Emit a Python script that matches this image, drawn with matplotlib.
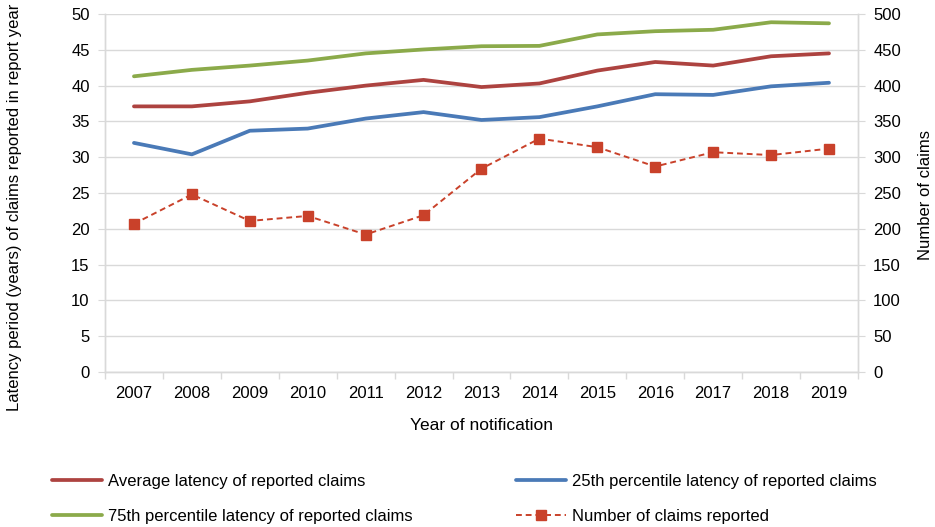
import matplotlib
matplotlib.use("Agg")
import matplotlib.pyplot as plt
from matplotlib.ticker import MultipleLocator

plt.rcParams['font.family'] = ['Liberation Sans', 'DejaVu Sans']

years = [2007, 2008, 2009, 2010, 2011, 2012, 2013, 2014, 2015, 2016, 2017, 2018, 2019]
avg_latency = [37.1, 37.1, 37.8, 39.0, 40.0, 40.8, 39.8, 40.3, 42.1, 43.3, 42.8, 44.1, 44.5]
p25_latency = [32.0, 30.4, 33.7, 34.0, 35.4, 36.3, 35.2, 35.6, 37.1, 38.8, 38.7, 39.9, 40.4]
p75_latency = [41.3, 42.2, 42.8, 43.5, 44.5, 45.05, 45.5, 45.55, 47.15, 47.6, 47.8, 48.85, 48.7]
claims = [207, 248, 211, 218, 192, 219, 284, 326, 314, 287, 307, 303, 312]

labels = ["Average latency of reported claims",
          "25th percentile latency of reported claims",
          "75th percentile latency of reported claims",
          "Number of claims reported"]

c_avg = "#AD4340"
c_p25 = "#4A7AB7"
c_p75 = "#8BAA4A"
c_cl = "#C9412A"
grid_c = "#D9D9D9"
fs = 12

fig = plt.figure(figsize=(9.35, 5.27), dpi=100)
ax = fig.add_axes([0.1123, 0.2941, 0.8053, 0.6793])
ax2 = ax.twinx()

l1, = ax.plot(years, avg_latency, color=c_avg, lw=2.7, solid_capstyle='round')
l2, = ax.plot(years, p25_latency, color=c_p25, lw=2.7, solid_capstyle='round')
l3, = ax.plot(years, p75_latency, color=c_p75, lw=2.7, solid_capstyle='round')
l4, = ax2.plot(years, claims, color=c_cl, lw=1.4, ls=(0, (3, 2)), marker='s',
               markersize=7.5, markerfacecolor=c_cl, markeredgecolor=c_cl)

ax.set_ylim(0, 50)
ax2.set_ylim(0, 500)
ax.set_xlim(2006.5, 2019.5)
ax.yaxis.set_major_locator(MultipleLocator(5))
ax2.yaxis.set_major_locator(MultipleLocator(50))
ax.set_xticks(years)
ax.set_xticks([y + 0.5 for y in [2006] + years], minor=True)
ax.tick_params(axis='x', which='major', length=0, labelsize=fs, pad=10)
ax.tick_params(axis='x', which='minor', length=5, color=grid_c, width=1)
ax.tick_params(axis='y', length=5, color=grid_c, labelsize=fs, pad=6)
ax2.tick_params(axis='y', length=5, color=grid_c, labelsize=fs, pad=6)

ax.grid(axis='y', color=grid_c, lw=1)
ax.set_axisbelow(True)
for a in (ax, ax2):
    a.spines['top'].set_visible(False)
    for s in ('left', 'right', 'bottom'):
        a.spines[s].set_color(grid_c)
        a.spines[s].set_linewidth(1)

ax.set_xlabel("Year of notification", fontsize=12.5, labelpad=12)
fig.text(15 / 935, 1 - 207 / 527, "Latency period (years) of claims reported in report year",
         rotation=90, ha='center', va='center', fontsize=fs)
fig.text(926 / 935, 1 - 195 / 527, "Number of claims",
         rotation=90, ha='center', va='center', fontsize=fs)

# legend handles ordered so the two-column layout reads row by row
leg = fig.legend([l1, l3, l2, l4], [labels[0], labels[2], labels[1], labels[3]],
                 ncol=2, loc='lower left',
                 bbox_to_anchor=(0.040, -0.022), frameon=False, fontsize=fs,
                 handlelength=3.0, handletextpad=0.35, columnspacing=6.2,
                 labelspacing=1.2, markerscale=0.9)

fig.savefig("out.png", dpi=100)
